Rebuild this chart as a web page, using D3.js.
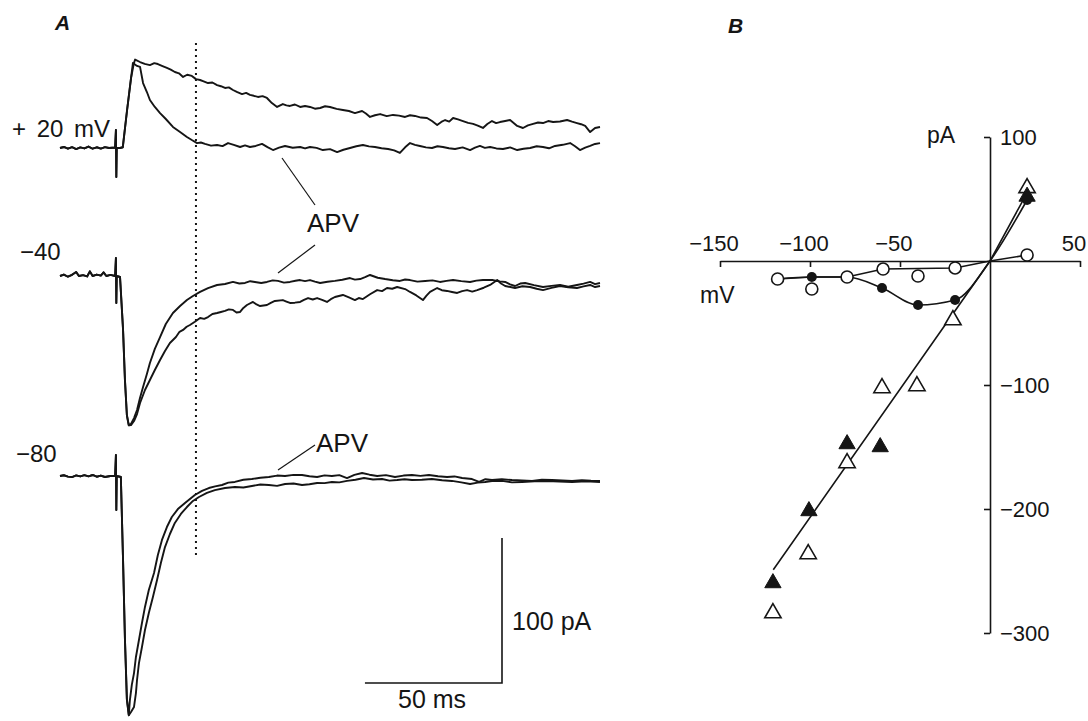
<!DOCTYPE html>
<html>
<head>
<meta charset="utf-8">
<script src="https://cdn.jsdelivr.net/npm/d3@7"></script>
<style>
  body { margin: 0; background: #fff; }
  svg { display: block; font-family: "Liberation Sans", Arial, Helvetica, sans-serif; }
</style>
</head>
<body>
<svg id="chart" width="1088" height="721"></svg>
<script>
// ---------- panel A : current traces, [ms from stimulus, pA from baseline] ----------
const onsetP20 = [[-20.4,0],[-19,0.7],[-17.5,-0.5],[-16,0.6],[-14.5,-0.7],[-13,0.4],[-11.5,-0.3],[-10,1],[-8.5,-0.5],[-7,0.5],[-5.5,-0.4],[-4,0.6],[-2.5,0],[-0.3,0.3],[0,12.4],[0.15,-20],[0.3,0],[1.5,0],[2.5,0.5],[4,25],[5.5,48]];
const ctrlP20 = [[6.5,58],[7,61],[8.8,59.3],[10.5,58],[12.4,57.2],[14,58.5],[15.3,57.9],[17,56.5],[18.6,55.2],[20,54],[21.5,52.4],[23,51.5],[24.5,49],[26,50.5],[27.7,49.7],[29.2,47.5],[30.7,46.9],[32,46],[33.6,44.8],[35.2,45.2],[36.9,43.4],[38.3,42.6],[39.8,41.4],[41.2,41.8],[42.7,40],[44.3,38.5],[46,37.2],[47.5,38],[48.9,36.6],[50.3,36],[51.8,35.2],[53.5,35.8],[55.1,34.5],[56.9,31],[58.8,28.3],[60.9,30.3],[62.2,29.4],[63.5,29],[65.3,30],[67.2,28.3],[69,29],[70.8,28.3],[72.6,27.1],[74.5,27.6],[76.3,28.8],[78.1,28.3],[80.5,27],[82.8,26.2],[85,25.5],[87.2,24.1],[89.8,25.5],[91.2,23.8],[92.7,21.4],[94.5,22.6],[96.4,23.4],[98.8,22],[101.1,22.8],[103.3,22.3],[105.5,21.4],[107.3,22.6],[109.1,22.1],[111.3,21],[113.5,20.7],[115.3,18.6],[117.2,15.9],[118.7,18],[120.1,19.3],[121.6,18.2],[123,20.7],[124.8,19.7],[126.6,18.6],[128.5,17.3],[130.3,16.6],[132,15.4],[133.9,13.8],[135.5,16.5],[137.2,18.6],[138.7,17.2],[140.1,17.9],[142,18.6],[143.8,19.3],[145.1,17.3],[146.4,15.2],[148.5,13.8],[150.3,15.6],[152.2,16.6],[154,17.6],[155.8,17.2],[157.7,18.6],[159.5,17.9],[162,18.3],[164.6,19.3],[166.4,18.2],[168.2,17.2],[169.7,16.4],[171.2,15.2],[173,11],[174.8,13.8],[176.6,14.5]];
const apvP20 = [[6.2,58.6],[7.7,56.6],[8.8,55.9],[9.9,44.8],[11.3,38.6],[12.4,33.1],[14.2,28.3],[16.1,24.1],[18.2,20],[20.8,14.5],[23.4,11],[25.9,7.6],[27.7,5.5],[29.6,3.4],[31,3.8],[32.5,2.8],[34.7,1.6],[36.9,2.1],[38.9,1.3],[40.9,3.4],[43,2.2],[45.3,0.7],[47.1,1.8],[48.9,0.7],[51,1.4],[53.3,2.8],[55.3,0.6],[57.3,-1.4],[59.5,0.2],[61.7,1.4],[64.5,0.2],[67.2,0.7],[69,-0.3],[70.8,0.7],[73.2,0.1],[75.5,-1.4],[78.1,-0.8],[80.7,-2.8],[83,-1.2],[85.4,0],[87.7,1.2],[90.1,2.1],[92.3,1.1],[94.5,0.7],[96.9,-0.2],[99.3,-0.7],[101.5,-1.6],[103.6,-3.4],[105.5,0.5],[107.3,3.4],[109.1,2.2],[110.9,1.4],[113.1,0.4],[115.3,0],[117.3,1.2],[119.3,0.7],[121.5,-0.2],[123.7,-0.7],[126.5,0.4],[129.2,-1.4],[131,0.2],[132.8,1.4],[134.6,0.1],[136.5,0.7],[138.8,-0.3],[141.2,-0.7],[143.8,0.4],[146.4,-1.4],[148.7,-0.5],[151.1,0],[153.5,1.2],[155.8,0.7],[158,-0.2],[160.2,1.4],[163,2.2],[165.7,3.4],[167.5,1.2],[169.3,-1.4],[171.2,0.2],[173,1.4],[174.8,2.8],[176.6,3.4]];

const onsetM40 = [[-20.4,0],[-19,1],[-17.5,-0.5],[-16,0.8],[-14.5,2.8],[-13.5,0],[-12,0.6],[-10.5,-0.3],[-9.5,3.2],[-8.5,0],[-7,1],[-5.5,0.3],[-4.5,2.5],[-3.5,0],[-2,0.8],[-0.3,0],[0,12.4],[0.15,-18.6],[0.3,0],[1.5,-0.7],[2.6,-37],[3.3,-72],[4,-96],[4.7,-103]];
const apvM40 = [[5.5,-102],[6.6,-98],[7.7,-92.4],[8.8,-84],[9.9,-76.6],[11.3,-67.6],[12.4,-60],[14.2,-50.3],[16.1,-42.1],[18.2,-33.1],[20.8,-25.5],[23.4,-20.7],[25.9,-16.6],[28.1,-13.8],[30.7,-11],[33.6,-8.3],[36.9,-6.2],[39.8,-5.5],[42.7,-4.1],[45,-5.2],[47.1,-4.8],[49,-3.6],[50.7,-4.1],[53,-4.8],[55.1,-4.1],[57.2,-3],[59.1,-3.4],[61.3,-4.6],[63.5,-4.1],[65.5,-3.3],[67.2,-2.8],[69,-3.5],[70.8,-2.8],[72.6,-3.9],[74.5,-4.8],[77.2,-4],[79.9,-3.4],[82.6,-2.6],[85.4,-1.4],[87.2,-2.5],[89.1,-2.1],[90.9,-0.8],[92.7,0.7],[95.5,-1.2],[98.2,-2.1],[101,-2.9],[103.6,-3.4],[105.5,-2.4],[107.3,-2.8],[110,-3.9],[112.8,-3.4],[115.5,-3],[118.2,-4.1],[120.6,-3.4],[123,-2.8],[126,-3.5],[129.2,-4.1],[131.5,-3.2],[133.9,-2.8],[137.6,-2.8],[140,-3.7],[142,-4.1],[143.8,-5.8],[145.6,-6.9],[147.5,-5.2],[149.3,-4.8],[152.5,-6.3],[155.8,-7.6],[158.9,-6.8],[162,-6.2],[165,-7.4],[168.2,-6.2],[170.6,-5.3],[173,-4.1],[174.8,-5.6],[176.6,-4.8]];
const ctrlM40 = [[5.5,-102.8],[6.6,-100],[7.7,-95.2],[8.8,-87.6],[10.6,-78.6],[12.4,-71.7],[14.2,-64.8],[16.1,-57.9],[17.9,-51.7],[19.7,-46.2],[21.9,-42.1],[23.2,-38.5],[24.5,-37.2],[25.8,-35],[27,-33.8],[28.8,-31.6],[30.7,-29],[32.2,-29.6],[33.6,-28.3],[35.2,-26.2],[36.9,-25.5],[38.3,-24.8],[39.8,-24.1],[41.2,-23],[42.7,-23.4],[44,-25.2],[45.3,-24.8],[46.5,-22],[47.8,-20],[50,-17.9],[51.3,-19.6],[52.6,-20.7],[55.1,-20],[56.5,-18.5],[58,-17.2],[60.9,-16.6],[62.2,-17.6],[63.5,-18.6],[65.3,-18.4],[67.2,-17.9],[68.6,-16.5],[70.1,-15.2],[71.8,-16.2],[73.4,-15.2],[75.2,-16.4],[77,-17.9],[78.4,-16],[79.9,-14.5],[82.8,-13.1],[85,-14.8],[87.2,-16.6],[88.6,-15.2],[90.1,-15.9],[92.7,-12.6],[95.3,-9.7],[97.1,-10.4],[98.9,-8.3],[100.8,-8.8],[102.6,-7.6],[105.5,-9],[107.3,-11],[109.6,-13.4],[112,-16.6],[113.3,-13.6],[114.6,-11],[117.2,-8.3],[118.9,-9.8],[120.8,-10.3],[122.6,-11],[124.5,-11.7],[126.3,-10.4],[128.1,-9.7],[130,-10.8],[131.8,-9.7],[134.2,-8.1],[136.5,-6.2],[139.1,-2.8],[140.5,-5.2],[142,-6.9],[145.6,-8.3],[148.3,-7.1],[151.1,-7.6],[153.5,-8.8],[155.8,-9.7],[158.9,-8.2],[162,-6.9],[165,-7.8],[168.2,-8.3],[170.6,-7.2],[173,-6.2],[174.8,-7.6],[176.6,-6.9]];

const onsetM80 = [[-20.4,0],[-19,0.5],[-17.5,-0.4],[-16,-0.7],[-14.5,0.4],[-13,-0.3],[-11.5,0.6],[-10,-0.2],[-8.5,0.7],[-7,-0.5],[-5.5,0.3],[-4,-0.7],[-2,0],[-0.3,0],[0,14.5],[0.15,-23.4],[0.3,0],[1.8,-0.7],[2.6,-58],[3.3,-113],[4,-154],[4.7,-165]];
const apvM80 = [[5.1,-154.5],[5.8,-144],[6.6,-135.9],[7.3,-124.8],[8.4,-113.1],[9.5,-101.4],[10.6,-90.3],[12,-78.6],[13.9,-66.9],[15.3,-54.5],[16.8,-44.1],[18.6,-35.2],[20.4,-28.3],[22.6,-22.8],[25.2,-18.6],[28.8,-13.1],[31.4,-10.3],[33.9,-8.3],[36.2,-7.2],[38.7,-6.2],[41,-4.6],[43.4,-4.1],[46.5,-2.6],[49.6,-2.1],[52.7,-1.2],[55.8,-0.7],[58.8,0.3],[61.7,0],[64.8,0.8],[67.9,0.7],[70.6,-0.2],[73.4,-0.7],[76.1,0.4],[78.8,0],[81.5,0.6],[84.3,-1.4],[87,0.8],[89.8,2.1],[92.5,0.9],[95.3,0],[98.5,0.6],[101.8,-0.7],[104.9,0.3],[108,0.7],[111.1,0.1],[114.2,0.7],[117.5,-0.2],[120.8,-0.7],[123.5,-0.3],[126.3,-1.4],[129.9,-2.1],[132.5,-4.1],[134.8,-2.2],[137.2,-2.8],[140.8,-2.2],[144.5,-2.8],[148.1,-3.1],[151.8,-3.4],[155.4,-2.6],[159.1,-2.8],[162.8,-3.1],[166.4,-3.4],[170,-2.9],[173.3,-3.3],[176.6,-3.4]];
const ctrlM80 = [[5.5,-162.8],[6.6,-159.3],[7.3,-149.7],[7.7,-140.7],[8.4,-129],[9.5,-117.9],[10.6,-106.2],[12,-94.5],[13.5,-83.4],[15,-71.7],[16.4,-60],[17.9,-49],[19.7,-40],[21.5,-32.4],[23.7,-26.2],[25.9,-21.4],[28.1,-17.2],[30.3,-14.5],[33.2,-11.7],[36.1,-9.7],[39.8,-8.3],[43.4,-7.6],[46.5,-7.9],[49.6,-6.9],[52.7,-5.9],[55.8,-6.2],[58.8,-6.8],[61.7,-5.5],[64.8,-5.2],[67.9,-6.2],[70.6,-5.7],[73.4,-4.8],[76.1,-4.9],[78.8,-4.1],[81.5,-4.4],[84.3,-3.4],[87.4,-2.6],[90.5,-1.4],[93.8,-2.4],[97.1,-2.1],[99.8,-3.2],[102.6,-2.8],[105.3,-2.2],[108,-2.8],[111.6,-2.6],[115.3,-2.1],[119,-2.9],[122.6,-3.4],[126,-4.4],[129.2,-5.5],[132,-4.6],[134.7,-4.1],[137.8,-3.3],[140.9,-3.4],[144.5,-4.4],[148.2,-4.1],[152.7,-3.6],[157.3,-3.4],[161.8,-3.8],[166.4,-4.1],[171.5,-3.7],[176.6,-4.1]];

const dottedLineMs = 29.2;
const scaleBarMs = 50;
const scaleBarPa = 100;

// ---------- panel B : I-V relation, [mV, pA] ----------
const ivOpenCircle = [[-118,-14.5],[-99,-22.6],[-79.4,-12.9],[-59.4,-6.5],[-40,-12.1],[-19.4,-5.6],[20.6,4.8]];
const ivFilledCircle = [[-99,-12.9],[-60,-21.8],[-40,-35.5],[-19.4,-31.5],[20.6,49.2]];
const ivOpenTriangle = [[-120.6,-283.9],[-101,-236.3],[-79.4,-162.9],[-60,-102.4],[-40.6,-100.8],[-20.6,-47.6],[20.6,58.9]];
const ivFilledTriangle = [[-120.6,-259.7],[-100.6,-201.6],[-79.4,-147.6],[-61,-150],[20.6,52]];
const fitOpenCircle = [[-118,-14.5],[-99,-12.9],[-79.4,-12.9],[-59.4,-6.5],[-19.4,-5.6],[0,0],[20.6,4.8]];
const fitFilledCircle = [[-118,-14.5],[-99,-12.9],[-79.4,-12.9],[-60,-21.8],[-40,-35.5],[-19.4,-31.5],[0,0],[20.6,49.2]];
const fitTriangle = [[-120.4,-249],[0,0],[20.6,55]];
const ivXTicks = [-150, -100, -50, 50];
const ivYTicks = [100, -100, -200, -300];

const ink = '#151515';
const svg = d3.select('#chart');

// ---------- panel A ----------
const xA = d3.scaleLinear().domain([-20.4, 176.6]).range([60, 600]);
const traceScale = base => d3.scaleLinear().domain([0, 100]).range([base, base - 145]);
const yP20 = traceScale(148), yM40 = traceScale(276), yM80 = traceScale(476);

const gA = svg.append('g');

const drawTrace = (data, y) => {
  gA.append('path')
    .datum(data)
    .attr('d', d3.line().x(d => xA(d[0])).y(d => y(d[1])))
    .attr('fill', 'none')
    .attr('stroke', ink)
    .attr('stroke-width', 1.9)
    .attr('stroke-linejoin', 'round');
};

drawTrace(onsetP20.concat(ctrlP20), yP20);
drawTrace(onsetP20.concat(apvP20), yP20);
drawTrace(onsetM40.concat(apvM40), yM40);
drawTrace(onsetM40.concat(ctrlM40), yM40);
drawTrace(onsetM80.concat(apvM80), yM80);
drawTrace(onsetM80.concat(ctrlM80), yM80);

// dotted time marker
gA.append('line')
  .attr('x1', xA(dottedLineMs)).attr('x2', xA(dottedLineMs))
  .attr('y1', 43).attr('y2', 557)
  .attr('stroke', ink).attr('stroke-width', 2)
  .attr('stroke-dasharray', '2,4');

// scale bar
const barX = 502, barY = 683;
const barW = xA(scaleBarMs) - xA(0);
const barH = yM80(0) - yM80(scaleBarPa);
gA.append('path')
  .attr('d', `M${barX - barW},${barY}H${barX}V${barY - barH}`)
  .attr('fill', 'none').attr('stroke', ink).attr('stroke-width', 1.6);

const label = (g, x, y, txt, size) =>
  g.append('text').attr('x', x).attr('y', y).text(txt)
    .attr('font-size', size).attr('fill', ink);

label(gA, 512, 630, '100 pA', 25);
label(gA, 398, 708, '50 ms', 25);
label(gA, 12, 137, '+ 20 mV', 24).attr('word-spacing', 4);
label(gA, 20, 260, '\u221240', 24);
label(gA, 16, 462, '\u221280', 24);
label(gA, 55, 30, 'A', 21).attr('font-style', 'italic').attr('font-weight', 'bold');

// APV labels with leaders
label(gA, 307, 232, 'APV', 26);
label(gA, 316, 452, 'APV', 26);
const leaders = [[282, 158, 315, 205], [278, 273, 315, 245], [278, 470, 315, 445]];
gA.selectAll('line.leader').data(leaders).join('line')
  .attr('class', 'leader')
  .attr('x1', d => d[0]).attr('y1', d => d[1]).attr('x2', d => d[2]).attr('y2', d => d[3])
  .attr('stroke', ink).attr('stroke-width', 1.2);

// ---------- panel B ----------
const xB = d3.scaleLinear().domain([-150, 50]).range([720, 1080]);
const yB = d3.scaleLinear().domain([-300, 100]).range([633, 137]);
const gB = svg.append('g');

label(gB, 728, 33, 'B', 21).attr('font-style', 'italic').attr('font-weight', 'bold');

const xAxisB = gB.append('g')
  .attr('transform', `translate(0,${yB(0)})`)
  .call(d3.axisTop(xB).tickValues(ivXTicks).tickSize(-6).tickSizeOuter(0).tickPadding(10));
const yAxisB = gB.append('g')
  .attr('transform', `translate(${xB(0)},0)`)
  .call(d3.axisRight(yB).tickValues(ivYTicks).tickSize(-6).tickSizeOuter(0).tickPadding(10));

[xAxisB, yAxisB].forEach(ax => {
  ax.attr('font-size', 22).attr('font-family', null);
  ax.selectAll('path, line').attr('stroke', ink).attr('stroke-width', 1.6);
  ax.selectAll('text').attr('fill', ink);
});
// negative labels sit with the digits over the tick; the last one is pulled in to stay on the page
xAxisB.selectAll('text').attr('dx', d => d < 0 ? '-0.3em' : '-0.3em');

label(gB, 927, 143, 'pA', 23);
label(gB, 700, 303, 'mV', 23);

const lineB = d3.line().x(d => xB(d[0])).y(d => yB(d[1]));
const drawFit = (data, curve) => {
  gB.append('path').datum(data)
    .attr('d', lineB.curve(curve))
    .attr('fill', 'none').attr('stroke', ink).attr('stroke-width', 1.6);
};
drawFit(fitOpenCircle, d3.curveLinear);
drawFit(fitFilledCircle, d3.curveMonotoneX);
drawFit(fitTriangle, d3.curveLinear);

const tri = d3.symbol(d3.symbolTriangle, 115);
gB.selectAll('path.otri').data(ivOpenTriangle).join('path')
  .attr('class', 'otri').attr('d', tri)
  .attr('transform', d => `translate(${xB(d[0])},${yB(d[1])})`)
  .attr('fill', '#fff').attr('stroke', ink).attr('stroke-width', 1.6);
gB.selectAll('path.ftri').data(ivFilledTriangle).join('path')
  .attr('class', 'ftri').attr('d', tri)
  .attr('transform', d => `translate(${xB(d[0])},${yB(d[1])})`)
  .attr('fill', ink).attr('stroke', ink).attr('stroke-width', 1);
gB.selectAll('circle.ocirc').data(ivOpenCircle).join('circle')
  .attr('class', 'ocirc')
  .attr('cx', d => xB(d[0])).attr('cy', d => yB(d[1])).attr('r', 6)
  .attr('fill', '#fff').attr('stroke', ink).attr('stroke-width', 1.6);
gB.selectAll('circle.fcirc').data(ivFilledCircle).join('circle')
  .attr('class', 'fcirc')
  .attr('cx', d => xB(d[0])).attr('cy', d => yB(d[1])).attr('r', 5)
  .attr('fill', ink);
</script>
</body>
</html>
